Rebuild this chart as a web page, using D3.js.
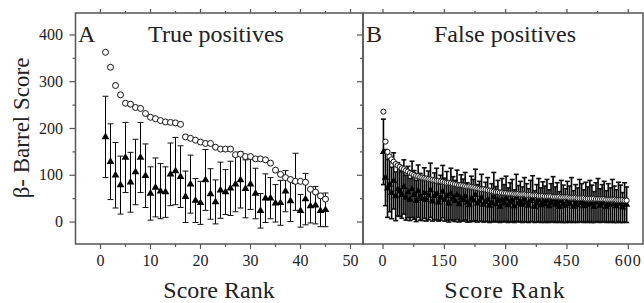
<!DOCTYPE html>
<html>
<head>
<meta charset="utf-8">
<script src="https://cdn.jsdelivr.net/npm/d3@7"></script>
<style>
  body { margin: 0; background: #fff; }
  svg { display: block; }
</style>
</head>
<body>
<div class="chart"></div>
<script>
// panel A: true positives, rank 1..45
const circA = [363, 331, 292, 272, 254, 252, 245, 243, 232, 224,
  221, 217, 214, 213, 212, 209, 182, 179, 175, 171,
  168, 168, 160, 156, 156, 156, 144, 145, 140, 140,
  135, 135, 133, 126, 111, 102, 95, 91, 87, 87,
  85, 70, 64, 56, 49];
const meanA = [182, 129, 100, 79, 138, 85, 107, 138, 99, 61,
  74, 66, 64, 102, 109, 97, 54, 81, 46, 41,
  90, 60, 43, 68, 64, 72, 81, 90, 71, 81,
  61, 24, 51, 51, 40, 41, 66, 45, 86, 24,
  49, 34, 36, 24, 26];
const errA = [87, 81, 70, 62, 75, 64, 70, 75, 68, 57,
  63, 59, 54, 67, 72, 66, 55, 62, 47, 46,
  65, 54, 47, 60, 48, 58, 59, 60, 62, 54,
  54, 37, 52, 44, 40, 48, 44, 44, 61, 35,
  55, 36, 40, 34, 36];

// panel B: false positives, sampled every 5th rank (1, 6, 11 ... 596)
const circB = [236, 172, 150, 140, 134, 129, 124, 121, 118, 115,
  113, 110, 108, 105, 103, 101, 99, 98, 96, 95,
  94, 93, 92, 91, 90, 89, 88, 88, 87, 86,
  85, 84, 84, 83, 82, 81, 80, 79, 79, 78,
  77, 76, 76, 75, 74, 73, 72, 71, 70, 70,
  69, 68, 67, 66, 65, 64, 64, 63, 63, 62,
  62, 61, 61, 61, 60, 60, 60, 59, 59, 59,
  58, 58, 58, 57, 57, 57, 56, 56, 56, 55,
  55, 55, 55, 54, 54, 54, 54, 53, 53, 53,
  53, 52, 52, 52, 52, 51, 51, 51, 51, 50,
  50, 50, 50, 50, 49, 49, 49, 49, 49, 48,
  48, 48, 48, 48, 47, 47, 47, 47, 46, 46];
const meanB = [150, 95, 72, 80, 62, 88, 55, 70, 66, 58,
  75, 52, 64, 48, 70, 58, 45, 66, 54, 50,
  62, 47, 57, 68, 44, 55, 60, 42, 52, 65,
  48, 56, 40, 60, 50, 45, 58, 38, 52, 47,
  55, 42, 36, 50, 46, 58, 40, 44, 52, 37,
  43, 48, 35, 41, 54, 38, 45, 33, 47, 40,
  50, 36, 42, 46, 34, 52, 39, 44, 37, 48,
  41, 35, 45, 50, 33, 40, 47, 36, 43, 38,
  46, 34, 41, 49, 37, 42, 32, 45, 39, 35,
  44, 38, 48, 33, 40, 36, 46, 41, 34, 43,
  37, 45, 39, 32, 42, 47, 35, 40, 44, 33,
  41, 36, 46, 38, 34, 43, 39, 31, 42, 37];
const errB = [70, 60, 62, 58, 55, 60, 52, 57, 54, 50,
  58, 48, 55, 45, 60, 52, 44, 56, 50, 47,
  54, 45, 52, 58, 42, 50, 55, 40, 48, 56,
  46, 52, 40, 55, 47, 44, 53, 38, 49, 45,
  51, 42, 36, 48, 45, 55, 40, 43, 50, 37,
  42, 47, 36, 41, 52, 38, 44, 34, 46, 40,
  48, 37, 42, 45, 35, 50, 39, 43, 38, 47,
  41, 36, 44, 49, 34, 40, 46, 37, 43, 39,
  45, 35, 41, 48, 38, 42, 33, 44, 40, 36,
  43, 39, 47, 34, 40, 37, 45, 41, 35, 42,
  38, 44, 40, 33, 42, 46, 36, 40, 43, 34,
  41, 37, 45, 39, 35, 42, 40, 32, 42, 38];

const yTicks = [0, 100, 200, 300, 400];
const xTicksA = [0, 10, 20, 30, 40, 50];
const xTicksB = [0, 150, 300, 450, 600];

const rankA = d3.range(1, 46);
const rankB = d3.range(1, 600, 5);

const width = 644, height = 303;
const serif = "'Liberation Serif', 'DejaVu Serif', 'Times New Roman', serif";
const svg = d3.select('.chart').append('svg')
  .attr('width', width)
  .attr('height', height)
  .attr('font-family', serif);

const plotTop = 13, plotBot = 244;
const y = d3.scaleLinear().domain([-47, 447]).range([plotBot, plotTop]);
const xA = d3.scaleLinear().domain([-5, 52.5]).range([75.5, 363]);
const xB = d3.scaleLinear().domain([-49, 636]).range([363, 643]);

const axisCol = '#555';
const textCol = '#222';

function frame(x, minorStep) {
  const g = svg.append('g');
  const [x0, x1] = x.range();
  g.append('rect')
    .attr('x', x0).attr('y', plotTop)
    .attr('width', x1 - x0).attr('height', plotBot - plotTop)
    .attr('fill', 'none').attr('stroke', axisCol).attr('stroke-width', 1.5);
  const d1 = x.domain()[1];
  const ticks = d3.range(0, d1 + 0.001, minorStep);
  ticks.forEach((t, i) => {
    const len = i % 2 === 0 ? 5 : 3;
    g.append('line')
      .attr('x1', x(t)).attr('x2', x(t))
      .attr('y1', plotBot).attr('y2', plotBot + len)
      .attr('stroke', axisCol).attr('stroke-width', 1.2);
    g.append('line')
      .attr('x1', x(t)).attr('x2', x(t))
      .attr('y1', plotTop).attr('y2', plotTop - len + 1)
      .attr('stroke', axisCol).attr('stroke-width', 1.2);
  });
  d3.range(-50, 450, 50).forEach(v => {
    if (v < -47) return;
    const len = v % 100 === 0 ? 6 : 3;
    g.append('line')
      .attr('x1', x0 - len).attr('x2', x0)
      .attr('y1', y(v)).attr('y2', y(v))
      .attr('stroke', axisCol).attr('stroke-width', 1.2);
  });
  return g;
}

function panel(x, ranks, circ, mean, err, capW, lw, triS, circR) {
  const g = svg.append('g');
  const d = ranks.map((r, i) => ({ r, c: circ[i], m: mean[i], e: err[i] }));
  const bars = g.selectAll('g.bar').data(d).join('g').attr('class', 'bar');
  bars.append('line')
    .attr('x1', p => x(p.r)).attr('x2', p => x(p.r))
    .attr('y1', p => y(p.m + p.e)).attr('y2', p => y(p.m - p.e))
    .attr('stroke', '#000').attr('stroke-width', lw);
  [1, -1].forEach(s => {
    bars.append('line')
      .attr('x1', p => x(p.r) - capW / 2).attr('x2', p => x(p.r) + capW / 2)
      .attr('y1', p => y(p.m + s * p.e)).attr('y2', p => y(p.m + s * p.e))
      .attr('stroke', '#111').attr('stroke-width', lw);
  });
  g.selectAll('path.tri').data(d).join('path')
    .attr('class', 'tri')
    .attr('d', d3.symbol(d3.symbolTriangle, triS))
    .attr('transform', p => `translate(${x(p.r)},${y(p.m)})`)
    .attr('fill', '#000');
  g.selectAll('circle').data(d).join('circle')
    .attr('cx', p => x(p.r)).attr('cy', p => y(p.c))
    .attr('r', circR)
    .attr('fill', '#fff').attr('stroke', '#111').attr('stroke-width', 1);
}

panel(xA, rankA, circA, meanA, errA, 6, 1, 26, 3);
panel(xB, rankB, circB, meanB, errB, 5, 1.6, 22, 2.6);
frame(xA, 5);
frame(xB, 75);

function label(x, yy, size, txt, anchor) {
  return svg.append('text')
    .attr('x', x).attr('y', yy)
    .attr('font-size', size)
    .attr('font-family', serif)
    .attr('fill', textCol)
    .attr('text-anchor', anchor || 'start')
    .text(txt);
}

// tick labels
yTicks.forEach(v => label(63, y(v) + 5, 16, v, 'end'));
xTicksA.forEach(v => label(xA(v), 266, 16, v, 'middle'));
xTicksB.forEach(v => label(xB(v), 266, 16, v, 'middle').attr('letter-spacing', 1));

// titles
label(78, 42, 24, 'A');
label(216, 42, 24, 'True positives', 'middle');
label(366, 42, 24, 'B');
label(505, 42, 24, 'False positives', 'middle');

// axis titles
label(219, 298, 24, 'Score Rank', 'middle');
label(505, 298, 24, 'Score Rank', 'middle').attr('letter-spacing', 1);
label(0, 0, 23, 'β- Barrel Score', 'middle')
  .attr('transform', 'translate(29,128) rotate(-90)');
</script>
</body>
</html>
